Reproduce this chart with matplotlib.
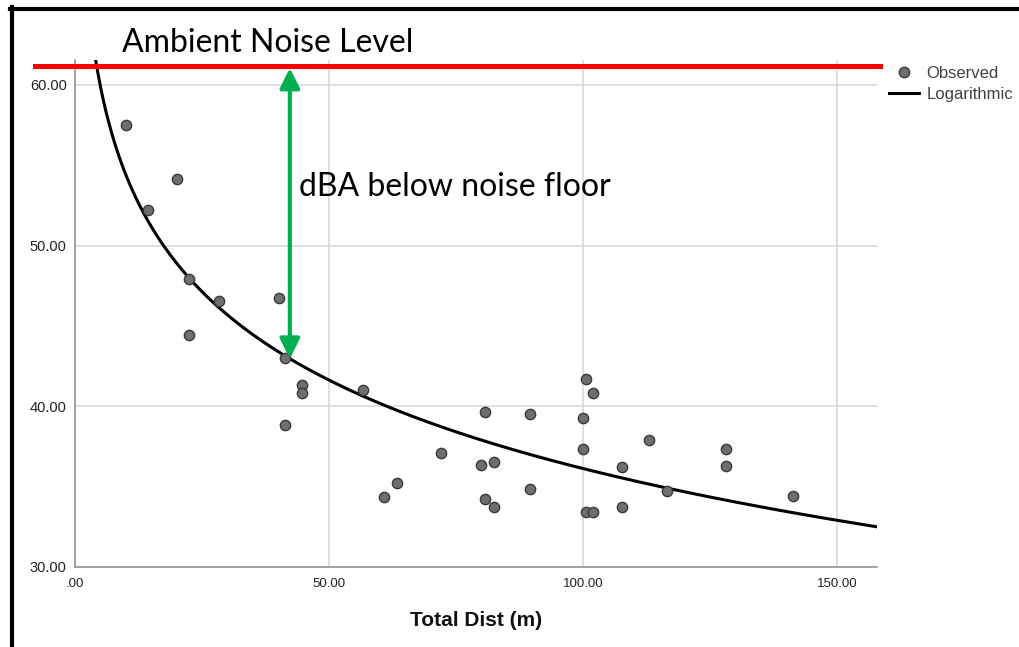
import numpy as np
import matplotlib
matplotlib.use("Agg")
import matplotlib.pyplot as plt
from matplotlib.patches import FancyArrowPatch
from matplotlib.lines import Line2D
from matplotlib.ticker import FuncFormatter

# observed points: distance (m) vs level (dBA)
dist = [10.0, 14.3, 20.1, 22.4, 22.4, 28.3, 40.2, 41.3, 41.3, 44.7, 44.7, 56.7,
        60.8, 63.4, 72.0, 79.9, 80.7, 80.7, 82.5, 82.5, 89.6, 89.6, 100.0, 100.0,
        100.6, 102.0, 100.6, 102.0, 107.7, 107.7, 113.0, 116.5, 128.1, 128.1, 141.3]
level = [57.48, 52.24, 54.17, 47.94, 44.45, 46.57, 46.76, 43.02, 38.85, 41.34, 40.84, 41.03,
         34.36, 35.23, 37.10, 36.36, 39.66, 34.24, 36.54, 33.74, 39.53, 34.86, 37.35, 39.28,
         41.71, 40.84, 33.43, 33.43, 36.23, 33.74, 37.91, 34.74, 37.35, 36.29, 34.42]
ambient_level = 61.15
gap_dist = 42.3

x_ticks = [0, 50, 100, 150]
y_ticks = [30, 40, 50, 60]

W, H = 1020, 647
fig = plt.figure(figsize=(W / 100, H / 100), dpi=100)
ax = fig.add_axes([75 / W, 1 - 567 / H, (877 - 75) / W, (567 - 60) / H])

# logarithmic fit  y = a + b*ln(x)
b, a = np.polyfit(np.log(dist), level, 1)
xs = np.linspace(0.5, 158, 400)
ax.plot(xs, a + b * np.log(xs), color="black", lw=2.2, zorder=3)

ax.scatter(dist, level, s=55, facecolor="#6e6e6e", edgecolor="#3a3a3a",
           linewidth=1.0, zorder=4)

ax.set_xlim(0, 157.9)
ax.set_ylim(30, 61.55)
ax.set_xticks(x_ticks)
ax.set_yticks(y_ticks)


def fmt(v, pos):
    s = f"{v:.2f}"
    return s[1:] if s.startswith("0.") else s


ax.xaxis.set_major_formatter(FuncFormatter(fmt))
ax.yaxis.set_major_formatter(FuncFormatter(fmt))
ax.tick_params(length=0, labelcolor="#222222")
ax.tick_params(axis="y", pad=6, labelsize=10.5)
ax.tick_params(axis="x", pad=8, labelsize=9.5)
for lab in ax.get_xticklabels() + ax.get_yticklabels():
    lab.set_fontfamily("Liberation Sans")

ax.grid(True, color="#d6d6d6", lw=1.1)
ax.set_axisbelow(True)
for side in ["top", "right"]:
    ax.spines[side].set_visible(False)
for side in ["left", "bottom"]:
    ax.spines[side].set_color("#8c8c8c")
    ax.spines[side].set_linewidth(1.1)

ax.set_xlabel("Total Dist (m)", fontfamily="Liberation Sans", fontweight="bold",
              fontsize=15, color="#111111", labelpad=15)

# ambient level line and the gap arrow
ax.plot([-7.9, 158.5], [ambient_level, ambient_level], color="#ff0000", lw=3.6,
        clip_on=False, zorder=5)
arrow = FancyArrowPatch((gap_dist, ambient_level - 0.1), (gap_dist, a + b * np.log(gap_dist)),
                        arrowstyle="<|-|>,head_length=0.6,head_width=0.3",
                        mutation_scale=20, color="#00b050", lw=3, shrinkA=0, shrinkB=0,
                        zorder=6)
ax.add_patch(arrow)

fig.text(122 / W, 1 - 52 / H, "Ambient Noise Level", fontfamily="Lato", fontsize=23,
         va="baseline", ha="left", color="black")
ax.text(gap_dist + 1.8, 53.65, "dBA below noise floor", fontfamily="Lato", fontsize=23,
        va="center", ha="left", color="black")

# legend
handles = [Line2D([], [], ls="none", marker="o", markersize=7.5, markerfacecolor="#6e6e6e",
                  markeredgecolor="#3a3a3a", markeredgewidth=1.0),
           Line2D([], [], color="black", lw=2.2)]
fig.legend(handles, ["Observed", "Logarithmic"], loc="upper left",
           bbox_to_anchor=(889 / W, 1 - 66 / H), frameon=False, borderpad=0,
           borderaxespad=0, handlelength=1.8, handletextpad=0.45, labelspacing=0.35,
           prop={"family": "Liberation Sans", "size": 12}, labelcolor="#404040")

# frame lines along the left and top edges
fig.add_artist(Line2D([12 / W, 12 / W], [0, 1 - 7 / H], color="black", lw=3,
                      transform=fig.transFigure))
fig.add_artist(Line2D([10 / W, 1], [1 - 9 / H, 1 - 9 / H], color="black", lw=3,
                      transform=fig.transFigure))

fig.savefig("out.png", dpi=100)
